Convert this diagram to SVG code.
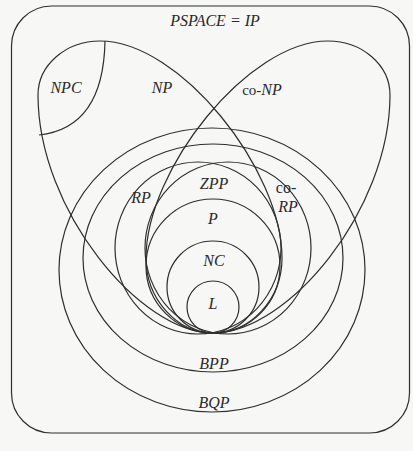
<svg xmlns="http://www.w3.org/2000/svg" width="413" height="451" viewBox="0 0 413 451">
<style>
.s{fill:none;stroke:#2e2e2e;stroke-width:1.2}
.t{font-family:"Liberation Serif","DejaVu Serif",serif;font-style:italic;font-size:16px;fill:#2a2a2a;text-anchor:middle}
.co{font-style:normal}
</style>
<rect width="413" height="451" fill="#f7f7f5"/>
<g id="PSPACE">
<rect class="s" x="11.5" y="6" width="398" height="427" rx="40"/>
<text class="t" x="215" y="26" font-size="17">PSPACE = IP</text>
</g>
<g id="NP">
<path class="s" d="M213,333 C140,333 38,210 38,95 C38,65 66,41 100,41 C180,41 282,170 282,258 C282,299 251,333 213,333 Z"/>
<text class="t" x="162" y="93">NP</text>
</g>
<g id="coNP">
<path class="s" d="M213,333 C288,333 390,210 390,95 C390,65 362,41 328,41 C248,41 146,170 146,258 C146,299 177,333 213,333 Z"/>
<text class="t" x="262" y="95"><tspan class="co" font-size="15">co-</tspan>NP</text>
</g>
<g id="NPC">
<path class="s" d="M105,41 C104,95 85,130 39,135"/>
<text class="t" x="66" y="93">NPC</text>
</g>
<g id="BQP">
<ellipse class="s" cx="212" cy="270" rx="153" ry="142"/>
<text class="t" x="214" y="408">BQP</text>
</g>
<g id="BPP">
<ellipse class="s" cx="213" cy="258" rx="130" ry="114"/>
<text class="t" x="214" y="369">BPP</text>
</g>
<g id="RP">
<ellipse class="s" cx="198" cy="248" rx="83" ry="86"/>
<text class="t" x="141" y="203">RP</text>
</g>
<g id="coRP">
<ellipse class="s" cx="228" cy="248" rx="83" ry="86"/>
<text class="t co" x="286" y="193" font-size="11">co-</text>
<text class="t" x="288" y="212">RP</text>
</g>
<g id="ZPP">
<text class="t" x="214" y="189">ZPP</text>
</g>
<g id="P">
<circle class="s" cx="213" cy="266" r="67"/>
<text class="t" x="213" y="224">P</text>
</g>
<g id="NC">
<circle class="s" cx="213" cy="287" r="46"/>
<text class="t" x="214" y="266">NC</text>
</g>
<g id="L">
<circle class="s" cx="213" cy="307" r="26"/>
<text class="t" x="213" y="309">L</text>
</g>
</svg>
